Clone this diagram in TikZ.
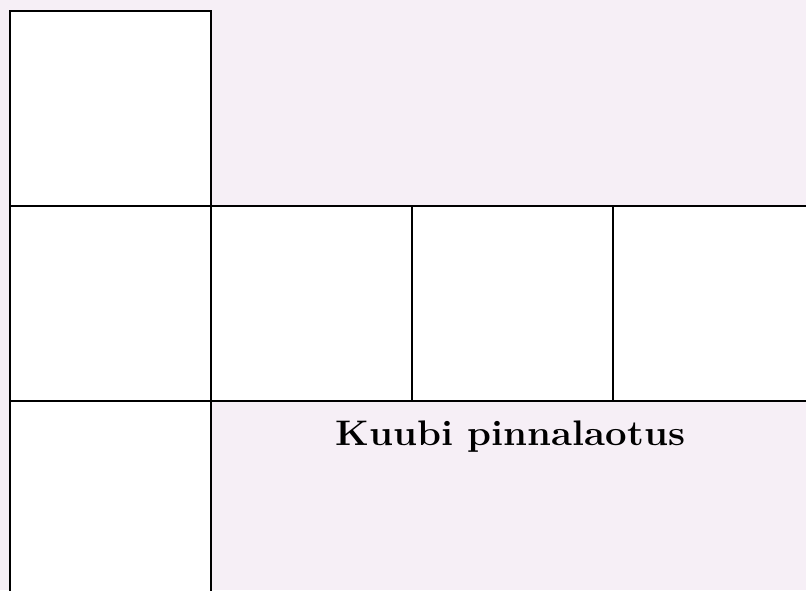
\documentclass[tikz,border=0pt]{standalone}
\usepackage{fontspec}
\definecolor{bgc}{HTML}{F6EFF6}
\tikzset{face/.style={draw=black,fill=white,line width=2.7pt,line join=miter}}
\begin{document}
\begin{tikzpicture}[x=1pt,y=-1pt]
\useasboundingbox (0,0) rectangle (806,590);
\fill[bgc] (0,0) rectangle (806,590);
\begin{scope}
\clip (0,0) rectangle (806,590);
\draw[face] (10,11) rectangle (211,206);
\draw[face] (10,206) rectangle (211,401);
\draw[face] (10,401) rectangle (211,600);
\draw[face] (211,206) rectangle (412,401);
\draw[face] (412,206) rectangle (613,401);
\draw[face] (613,206) rectangle (820,401);
\end{scope}
\node[anchor=base,inner sep=0pt,xscale=1.08,font=\fontsize{35.5}{42}\selectfont\bfseries] (title) at (510.5,445) {Kuubi pinnalaotus};
\end{tikzpicture}
\end{document}
